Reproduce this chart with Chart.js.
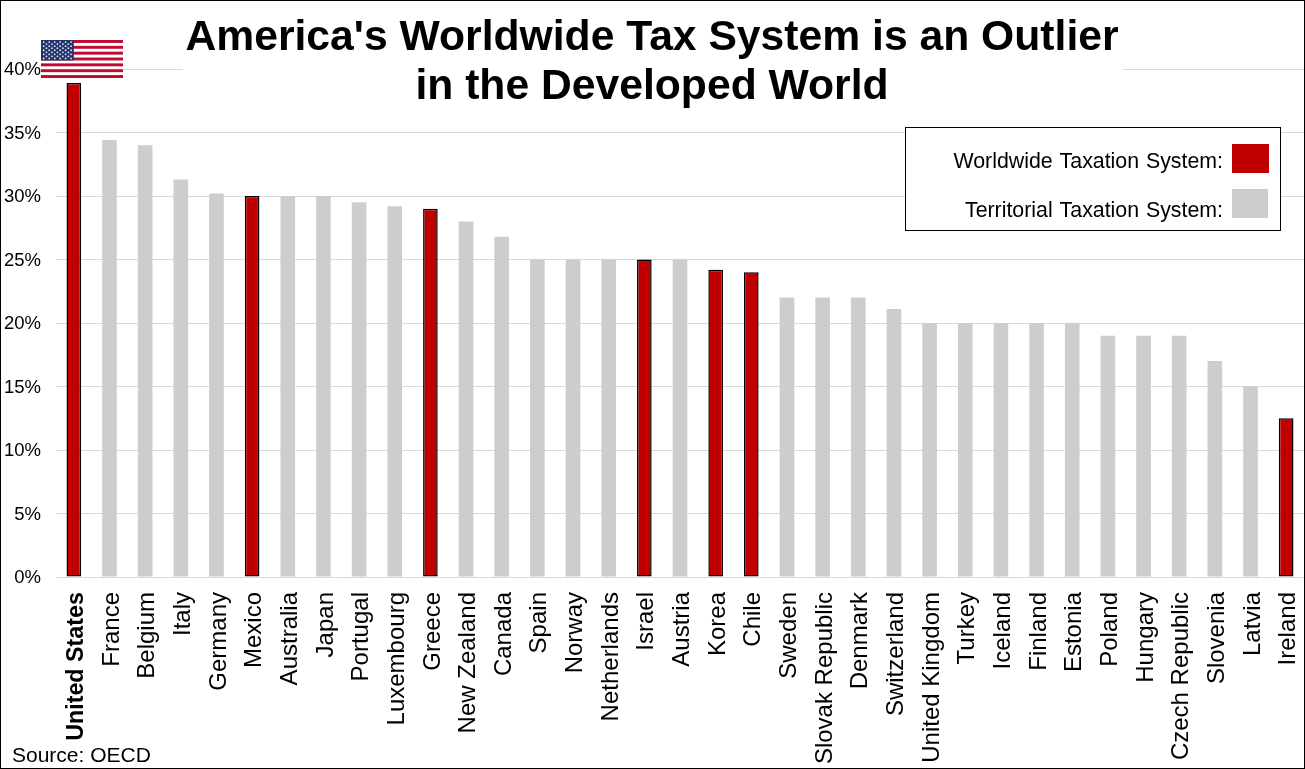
<!DOCTYPE html>
<html><head><meta charset="utf-8">
<style>html,body{margin:0;padding:0;background:#fff;overflow:hidden}#w{position:relative;width:1305px;height:769px}</style>
<script src="https://cdn.jsdelivr.net/npm/chart.js@4"></script>
</head><body><div id="w"><canvas id="c" width="1305" height="769"></canvas></div>
<script>
const categories=["United States","France","Belgium","Italy","Germany","Mexico","Australia","Japan","Portugal","Luxembourg","Greece","New Zealand","Canada","Spain","Norway","Netherlands","Israel","Austria","Korea","Chile","Sweden","Slovak Republic","Denmark","Switzerland","United Kingdom","Turkey","Iceland","Finland","Estonia","Poland","Hungary","Czech Republic","Slovenia","Latvia","Ireland"];
const taxRates=[38.9,34.4,34,31.3,30.2,30,30,30,29.5,29.2,29,28,26.8,25,25,25,25,25,24.2,24,22,22,22,21.1,20,20,20,20,20,19,19,19,17,15,12.5];
const worldwide=["United States","Mexico","Greece","Israel","Korea","Chile","Ireland"];
const yTicks=[0,5,10,15,20,25,30,35,40];
const titleLines=["America's Worldwide Tax System is an Outlier","in the Developed World"];
const legendLabels=["Worldwide Taxation System:","Territorial Taxation System:"];
const sourceText="Source: OECD";
const RED="#c00000",GREY="#cecccc",FONT="'Liberation Sans',Arial,sans-serif";
const isW=i=>worldwide.includes(categories[i]);

function drawFlag(c,x,y,w,h){
  const n=13,sh=h/n;
  c.fillStyle="#fff";c.fillRect(x,y,w,h);
  c.fillStyle="#bf0a30";
  for(let i=0;i<n;i+=2)c.fillRect(x,y+i*sh,w,sh);
  const cw=w*0.4,ch=sh*7;
  c.fillStyle="#22346e";c.fillRect(x,y,cw,ch);
  c.fillStyle="#e8ecf6";
  for(let r=0;r<9;r++){
    const cols=r%2?5:6;
    for(let k=0;k<cols;k++){
      const sx=x+cw*((r%2?2:1)+2*k)/12,sy=y+ch*(r+1)/10;
      c.beginPath();c.arc(sx,sy,0.9,0,7);c.fill();
    }
  }
}
const deco={id:"deco",
 afterDatasetsDraw(ch){
  const c=ch.ctx;c.save();
  c.fillStyle="#fff";c.fillRect(183,14,940,96);
  c.fillStyle="#000";c.textAlign="center";c.textBaseline="alphabetic";
  c.font="bold 42.67px "+FONT;
  c.fillText(titleLines[0],652,50);
  c.fillText(titleLines[1],652,99);
  c.fillStyle="#fff";c.fillRect(905.5,127.5,375,103);
  c.strokeStyle="#000";c.lineWidth=1;c.strokeRect(905.5,127.5,375,103);
  c.fillStyle=RED;c.fillRect(1232,144,37,29);
  c.fillStyle=GREY;c.fillRect(1232,189,36,29);
  c.fillStyle="#000";c.textAlign="right";c.font="21.33px "+FONT;
  c.wordSpacing="1px";
  c.fillText(legendLabels[0],1223,168);
  c.fillText(legendLabels[1],1223,217);
  c.wordSpacing="0px";
  c.textAlign="left";c.font="21px "+FONT;c.fillText(sourceText,12,762);
  drawFlag(c,41,40,82,38);
  c.strokeStyle="#000";c.lineWidth=2;c.strokeRect(0,0,1305,769);
  c.restore();
 }};
new Chart(document.getElementById("c"),{
 type:"bar",
 data:{labels:categories,datasets:[{label:"Tax rate",data:taxRates,
  backgroundColor:ctx=>isW(ctx.dataIndex)?RED:GREY,
  borderColor:ctx=>isW(ctx.dataIndex)?"#000":GREY,
  borderWidth:ctx=>isW(ctx.dataIndex)?1.5:0,
  borderSkipped:false,
  barPercentage:0.41,categoryPercentage:1}]},
 options:{responsive:false,animation:false,
  layout:{autoPadding:false,padding:{top:69,right:1,left:0,bottom:0}},
  plugins:{legend:{display:false},title:{display:false},tooltip:{enabled:false}},
  scales:{
   x:{grid:{display:false},border:{display:false},
      afterFit:s=>{s.height=192;s.paddingLeft=0;s.paddingRight=0},
      ticks:{autoSkip:false,minRotation:90,maxRotation:90,padding:7,labelOffset:2.5,color:"#000",
        font:ctx=>({family:FONT,size:ctx.index===0?23.3:24,weight:ctx.index===0?"bold":"normal"})}},
   y:{min:0,max:40,grid:{color:"#d9d9d9",lineWidth:1,drawTicks:false},border:{display:false},
      afterFit:s=>{s.width=56},
      afterBuildTicks:s=>{s.ticks=yTicks.map(v=>({value:v}))},
      ticks:{padding:15,labelOffset:1,color:"#000",font:{family:FONT,size:18.5},callback:v=>v+"%"}}
  }},
 plugins:[deco]});
</script></body></html>
